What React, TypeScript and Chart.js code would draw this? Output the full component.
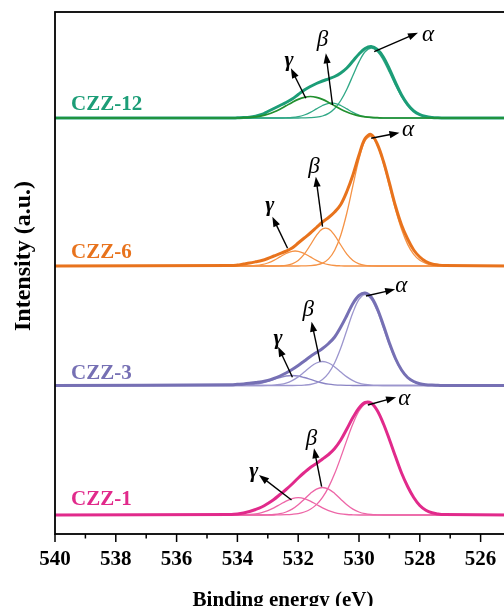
import React, { useEffect, useRef } from 'react';
import { Chart, registerables } from 'chart.js';

Chart.register(...registerables);

// Binding energy grid (eV)
const energy = [540, 534.2, 534.0, 533.8, 533.6, 533.4, 533.2, 533.0, 532.8, 532.6, 532.4, 532.2, 532.0, 531.8, 531.6, 531.4, 531.2, 531.0, 530.8, 530.6, 530.4, 530.2, 530.0, 529.8, 529.6, 529.4, 529.2, 529.0, 528.8, 528.6, 528.4, 528.2, 528.0, 527.8, 527.6, 527.4, 527.2, 525];

const majorTicks = [540, 538, 536, 534, 532, 530, 528, 526];
const minorTicks = [539, 537, 535, 533, 531, 529, 527];

const samples = ['CZZ-1', 'CZZ-3', 'CZZ-6', 'CZZ-12'];
const offsets = [19, 148.5, 268, 416];

// CZZ-1
const raw1 = [0, 0.5, 1, 2, 3.5, 5.5, 8, 11.5, 15.5, 20.5, 25.5, 31, 37, 42.5, 47.5, 51.5, 56, 60.5, 66.5, 75, 86, 97.5, 107, 112.5, 112, 104.5, 91.5, 75.5, 58.5, 42, 28.5, 17.5, 9.5, 4.8, 2.2, 1, 0.4, 0];
const alpha1 = [0, 0, 0, 0, 0, 0, 0, 0, 0, 0.1, 0.3, 0.7, 1.4, 3.0, 5.8, 10.4, 17.6, 27.9, 41.4, 57.6, 74.9, 91.2, 104, 111.1, 111.1, 104, 91.2, 74.9, 57.6, 41.4, 27.9, 17, 9, 4.5, 2, 0.8, 0.3, 0];
const beta1 = [0, 0, 0, 0, 0, 0, 0, 0.2, 0.5, 1.3, 3.0, 5.9, 10.3, 15.8, 21.5, 25.9, 27.5, 25.9, 21.5, 15.8, 10.3, 5.9, 3.0, 1.3, 0.5, 0.2, 0, 0, 0, 0, 0, 0, 0, 0, 0, 0, 0, 0];
const gamma1 = [0, 0, 0, 0.2, 0.5, 1.1, 2.3, 4.3, 7.1, 10.5, 13.9, 16.4, 17.3, 16.4, 13.9, 10.5, 7.1, 4.3, 2.3, 1.1, 0.5, 0.2, 0, 0, 0, 0, 0, 0, 0, 0, 0, 0, 0, 0, 0, 0, 0, 0];

// CZZ-3
const raw3 = [0, 0.8, 1.2, 1.6, 2.2, 3, 3.8, 5, 7, 9.5, 12.5, 16, 20, 24.5, 29, 33, 37, 42, 48.5, 58.5, 70, 82, 90, 92.5, 88.5, 77, 60.5, 42.5, 27, 15.5, 8, 4, 1.8, 0.8, 0.4, 0.2, 0, 0];
const alpha3 = [0, 0, 0, 0, 0, 0, 0, 0, 0, 0, 0, 0, 0.1, 0.4, 1.0, 2.6, 6.0, 12.3, 22.7, 37.4, 55.2, 72.9, 86.1, 91, 86.5, 74.4, 57.8, 40.6, 25.8, 14.8, 7.7, 3.6, 1.5, 0.6, 0.2, 0, 0, 0];
const beta3 = [0, 0, 0, 0, 0, 0, 0, 0.1, 0.4, 1.1, 2.4, 4.9, 8.6, 13.5, 18.6, 22.5, 24, 22.5, 18.6, 13.5, 8.6, 4.9, 2.4, 1.1, 0.4, 0.1, 0, 0, 0, 0, 0, 0, 0, 0, 0, 0, 0, 0];
const gamma3 = [0, 0, 0.1, 0.3, 0.7, 1.35, 2.5, 4.1, 6.1, 8.0, 9.5, 10, 9.5, 8.0, 6.1, 4.1, 2.5, 1.35, 0.7, 0.3, 0.1, 0, 0, 0, 0, 0, 0, 0, 0, 0, 0, 0, 0, 0, 0, 0, 0, 0];

// CZZ-6
const raw6 = [0, 0.4, 1, 2, 3, 4.2, 5.5, 7.5, 10, 12.3, 14.8, 18, 23, 28, 33, 38.5, 44, 48.5, 54, 61.5, 74.5, 91, 111, 127.5, 131.5, 122, 105, 83, 60, 41, 27, 16, 9, 4.5, 2, 1, 0.4, 0];
const alpha6 = [0, 0, 0, 0, 0, 0, 0, 0, 0, 0, 0, 0, 0, 0.1, 0.3, 1.0, 2.8, 7.1, 15.8, 30.8, 53, 80.3, 107, 125.4, 129.6, 121, 103, 80, 56.7, 36.7, 21.6, 11.6, 5.7, 2.6, 1.0, 0.4, 0.1, 0];
const beta6 = [0, 0, 0, 0, 0, 0, 0, 0, 0, 0.2, 0.7, 2.2, 5.6, 11.9, 21.0, 30.7, 37.1, 37.1, 30.7, 21.0, 11.9, 5.6, 2.2, 0.7, 0.2, 0, 0, 0, 0, 0, 0, 0, 0, 0, 0, 0, 0, 0];
const gamma6 = [0, 0, 0, 0, 0.2, 0.5, 1.3, 3.0, 5.6, 9.1, 12.5, 14.7, 14.7, 12.5, 9.1, 5.6, 3.0, 1.3, 0.5, 0.2, 0, 0, 0, 0, 0, 0, 0, 0, 0, 0, 0, 0, 0, 0, 0, 0, 0, 0];

// CZZ-12
const raw12 = [0, 0, 0.2, 0.4, 0.8, 1.8, 3.5, 6.5, 9.5, 12.5, 15.5, 19, 23.5, 28, 31.5, 34.5, 37, 39.2, 41.5, 45, 50, 57, 64, 69.5, 71.5, 68.5, 61, 49, 35.5, 23, 13.5, 7, 3.4, 1.5, 0.6, 0.2, 0, 0];
const alpha12 = [0, 0, 0, 0, 0, 0, 0, 0, 0, 0, 0, 0, 0, 0.1, 0.3, 0.8, 2.0, 4.6, 9.5, 17.5, 28.8, 42.5, 56.1, 66.2, 70, 66.8, 57.9, 45.7, 32.8, 21.4, 12.7, 6.9, 3.4, 1.5, 0.6, 0.2, 0, 0];
const beta12 = [0, 0, 0, 0, 0, 0, 0, 0, 0, 0, 0.2, 0.5, 1.3, 3.0, 5.6, 9.1, 12.5, 14.7, 14.7, 12.5, 9.1, 5.6, 3.0, 1.3, 0.5, 0.2, 0, 0, 0, 0, 0, 0, 0, 0, 0, 0, 0, 0];
const gamma12 = [0, 0, 0, 0.3, 0.6, 1.2, 2.2, 3.8, 6.0, 8.8, 12.2, 15.6, 18.6, 20.7, 21.5, 20.7, 18.6, 15.6, 12.2, 8.8, 6.0, 3.8, 2.2, 1.2, 0.6, 0.3, 0, 0, 0, 0, 0, 0, 0, 0, 0, 0, 0, 0];

const rawSeries = [raw1, raw3, raw6, raw12];
const alphaSeries = [alpha1, alpha3, alpha6, alpha12];
const betaSeries = [beta1, beta3, beta6, beta12];
const gammaSeries = [gamma1, gamma3, gamma6, gamma12];

const thickColors = ['#e12a8b', '#7670b4', '#e8731d', '#1c9d77'];
const thinColors = ['#ed66a7', '#9c96ce', '#f59346', '#30a886'];
const gammaColors = ['#ed66a7', '#8a84c4', '#f59346', '#22902e'];

// annotation marks per sample: [labelE, labelV, tailE, tailV, headE, headV] (V relative to baseline)
const peakNames = ['α', 'β', 'γ'];
const markAlpha = [
  [528.51, 115.7, 529.71, 110, 528.78, 117.7],
  [528.61, 99.5, 529.77, 89.5, 528.81, 96.2],
  [528.39, 136, 529.6, 127.7, 528.67, 133.3],
  [527.73, 83, 529.5, 66.3, 528.06, 85.3],
];
const markBeta = [
  [531.56, 75.7, 531.23, 28.3, 531.48, 66.7],
  [531.67, 75.5, 531.28, 23.8, 531.56, 63.8],
  [531.48, 99.3, 531.2, 39.3, 531.42, 89.3],
  [531.2, 78, 530.87, 13, 531.09, 64.7],
];
const markGamma = [
  [533.46, 43.3, 532.22, 15, 533.29, 40],
  [532.66, 47.2, 532.19, 8.2, 532.66, 38.8],
  [532.93, 61, 532.35, 17.7, 532.85, 49.3],
  [532.3, 58, 531.75, 19.7, 532.24, 49.7],
];
const sampleLabelE = 539.47;
const sampleLabelV = [10, 7, 8, 8];

const FONT = '"Liberation Serif", "Times New Roman", serif';

function drawArrow(ctx: CanvasRenderingContext2D, x1: number, y1: number, x2: number, y2: number) {
  const ang = Math.atan2(y2 - y1, x2 - x1);
  const L = 10;
  const W = 3.6;
  const c = Math.cos(ang);
  const s = Math.sin(ang);
  ctx.beginPath();
  ctx.moveTo(x1, y1);
  ctx.lineTo(x2 - L * 0.8 * c, y2 - L * 0.8 * s);
  ctx.stroke();
  ctx.beginPath();
  ctx.moveTo(x2, y2);
  ctx.lineTo(x2 - L * c + W * s, y2 - L * s - W * c);
  ctx.lineTo(x2 - L * c - W * s, y2 - L * s + W * c);
  ctx.closePath();
  ctx.fill();
}

const decorPlugin = {
  id: 'xpsDecor',
  afterDatasetsDraw(chart: any) {
    const { ctx, chartArea, scales } = chart;
    const xs = scales.x;
    const ys = scales.y;
    const { left, right, top, bottom } = chartArea;
    ctx.save();
    // frame
    ctx.strokeStyle = '#000';
    ctx.lineWidth = 1.8;
    ctx.strokeRect(left, top, right - left, bottom - top);
    // ticks
    ctx.lineWidth = 1.5;
    majorTicks.forEach((v) => {
      const x = xs.getPixelForValue(v);
      ctx.beginPath();
      ctx.moveTo(x, bottom);
      ctx.lineTo(x, bottom + 8);
      ctx.stroke();
    });
    minorTicks.forEach((v) => {
      const x = xs.getPixelForValue(v);
      ctx.beginPath();
      ctx.moveTo(x, bottom);
      ctx.lineTo(x, bottom + 4.5);
      ctx.stroke();
    });
    // sample labels
    ctx.font = `bold 21px ${FONT}`;
    ctx.textAlign = 'left';
    ctx.textBaseline = 'alphabetic';
    samples.forEach((name, i) => {
      ctx.fillStyle = thickColors[i];
      ctx.fillText(name, xs.getPixelForValue(sampleLabelE), ys.getPixelForValue(offsets[i] + sampleLabelV[i]));
    });
    // peak labels and arrows
    ctx.fillStyle = '#000';
    ctx.strokeStyle = '#000';
    ctx.lineWidth = 1.4;
    ctx.textAlign = 'center';
    ctx.textBaseline = 'middle';
    [markAlpha, markBeta, markGamma].forEach((marks, p) => {
      marks.forEach((m, i) => {
        const off = offsets[i];
        ctx.font = p === 2 ? `bold italic 22px ${FONT}` : `italic 23px ${FONT}`;
        ctx.fillText(peakNames[p], xs.getPixelForValue(m[0]), ys.getPixelForValue(off + m[1]));
        drawArrow(
          ctx,
          xs.getPixelForValue(m[2]), ys.getPixelForValue(off + m[3]),
          xs.getPixelForValue(m[4]), ys.getPixelForValue(off + m[5])
        );
      });
    });
    // axis titles
    ctx.fillStyle = '#000';
    ctx.font = `bold 21px ${FONT}`;
    ctx.textAlign = 'center';
    ctx.textBaseline = 'alphabetic';
    ctx.fillText('Binding energy (eV)', (left + right) / 2, bottom + 71.5);
    ctx.save();
    ctx.translate(left - 25, top + 244);
    ctx.rotate(-Math.PI / 2);
    ctx.font = `bold 24px ${FONT}`;
    ctx.fillText('Intensity (a.u.)', 0, 0);
    ctx.restore();
    ctx.restore();
  },
};

function series(values: number[], i: number) {
  return energy.map((e, k) => ({ x: e, y: values[k] + offsets[i] }));
}

export default function App() {
  const ref = useRef<HTMLCanvasElement | null>(null);

  useEffect(() => {
    if (!ref.current) return;
    const datasets: any[] = [];
    const base = {
      pointRadius: 0,
      fill: false,
      tension: 0.35,
      cubicInterpolationMode: 'default',
    };
    // first dataset is drawn on top
    [3, 2, 1, 0].forEach((i) => {
      if (i === 3) {
        datasets.push({ ...base, label: samples[i] + ' γ', data: series(gammaSeries[i], i), borderColor: gammaColors[i], borderWidth: 1.7 });
      }
      datasets.push({ ...base, label: samples[i], data: series(rawSeries[i], i), borderColor: thickColors[i], borderWidth: 3 });
      datasets.push({ ...base, label: samples[i] + ' α', data: series(alphaSeries[i], i), borderColor: thinColors[i], borderWidth: 1.3 });
      datasets.push({ ...base, label: samples[i] + ' β', data: series(betaSeries[i], i), borderColor: thinColors[i], borderWidth: 1.3 });
      if (i !== 3) {
        datasets.push({ ...base, label: samples[i] + ' γ', data: series(gammaSeries[i], i), borderColor: gammaColors[i], borderWidth: 1.3 });
      }
    });

    const chart = new Chart(ref.current, {
      type: 'line',
      data: { datasets },
      options: {
        animation: false,
        responsive: true,
        maintainAspectRatio: false,
        events: [],
        layout: { padding: { left: 55, top: 12, right: 29, bottom: 0 } },
        plugins: { legend: { display: false }, tooltip: { enabled: false } },
        scales: {
          x: {
            type: 'linear',
            min: 525,
            max: 540,
            reverse: true,
            grid: { display: false, drawTicks: false },
            border: { display: false },
            afterBuildTicks: (scale: any) => {
              scale.ticks = majorTicks.map((v) => ({ value: v }));
            },
            afterFit: (scale: any) => {
              scale.height = 106;
            },
            ticks: {
              autoSkip: false,
              maxRotation: 0,
              padding: 13,
              color: '#000',
              font: { family: FONT, size: 21, weight: 'bold' },
            },
          },
          y: {
            display: false,
            min: 0,
            max: 522,
          },
        },
      } as any,
      plugins: [decorPlugin],
    });
    return () => chart.destroy();
  }, []);

  return (
    <div style={{ position: 'fixed', left: 0, top: 0, width: 504, height: 606, overflow: 'hidden', background: '#fff' }}>
      <div style={{ position: 'absolute', left: 0, top: 0, width: 540, height: 640 }}>
        <canvas ref={ref} />
      </div>
    </div>
  );
}
